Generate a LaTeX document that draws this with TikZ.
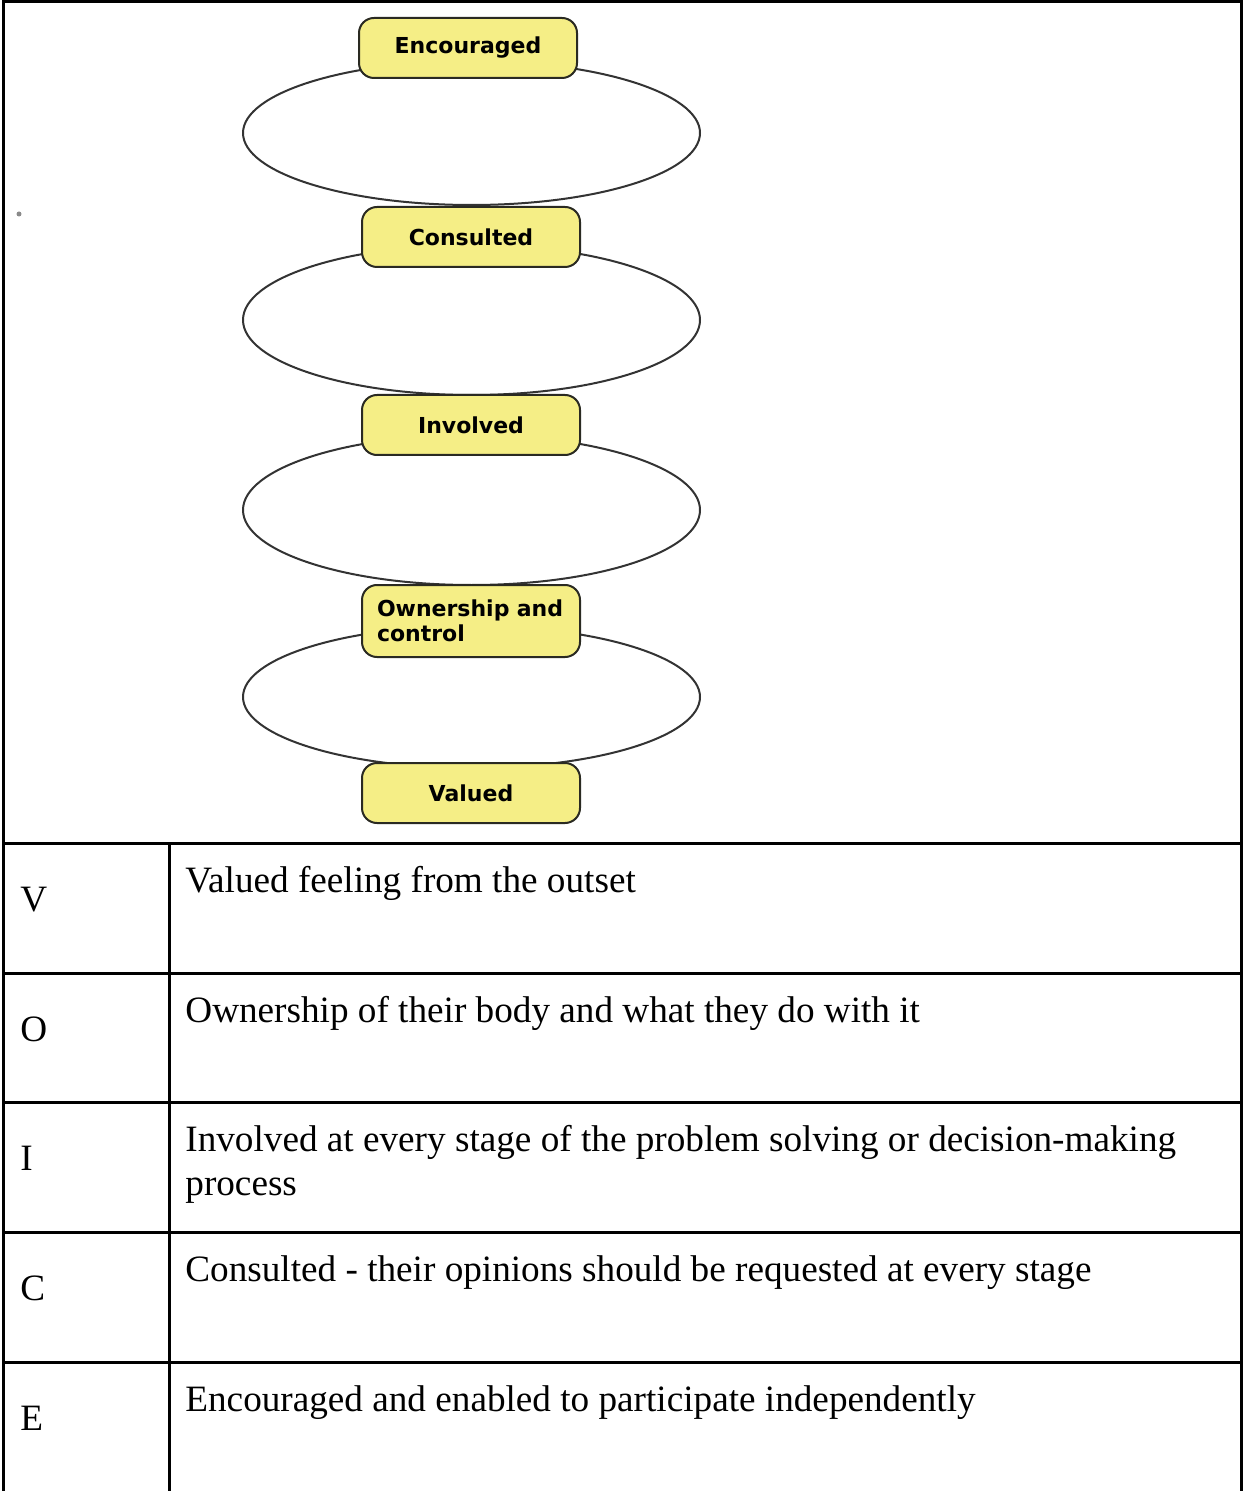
\documentclass[tikz,border=0pt]{standalone}
\usepackage{fontspec}
\setmainfont{Liberation Serif}
\newfontfamily\stagefont{DejaVu Sans}
\usetikzlibrary{shapes.geometric}
\definecolor{stagefill}{HTML}{F5EE86}
\definecolor{stageedge}{HTML}{2A2A22}
\definecolor{ringedge}{HTML}{333333}
\definecolor{smudge}{HTML}{8A8A8A}

\tikzset{
  ring/.style={draw=ringedge, line width=1pt, ellipse, inner sep=0pt,
               minimum width=228.5pt},
  stagebox/.style={draw=stageedge, fill=stagefill, line width=1pt,
                   rounded corners=7.5pt, minimum width=109pt, minimum height=30pt,
                   inner sep=0pt, align=center,
                   font=\stagefont\bfseries\fontsize{11}{12.5}\selectfont},
  gridline/.style={line width=1.5pt, line join=miter},
  keytext/.style={anchor=base west, inner sep=0pt,
                  font=\fontsize{18.6}{22}\selectfont},
  desctext/.style={anchor=base west, inner sep=0pt, align=left,
                   font=\fontsize{18.6}{22}\selectfont},
}

\begin{document}
\begin{tikzpicture}[x=0.5pt, y=-0.5pt]
  \useasboundingbox (0,0) rectangle (1244,1491);

  % loops behind the stages
  \node[ring, minimum height=72pt] (ring1) at (471.5,133) {};
  \node[ring, minimum height=75pt] (ring2) at (471.5,320) {};
  \node[ring, minimum height=75pt] (ring3) at (471.5,510) {};
  \node[ring, minimum height=71pt] (ring4) at (471.5,697) {};

  % stages, top to bottom
  \node[stagebox] (encouraged) at (468,48) {Encouraged};
  \node[stagebox] (consulted) at (471,237) {Consulted};
  \node[stagebox] (involved) at (471,425) {Involved};
  \node[stagebox, minimum height=36pt, text width=94pt, align=left]
    (ownership) at (471,621) {Ownership and\\control};
  \node[stagebox] (valued) at (471,793) {Valued};

  \fill[smudge] (19,214) circle (2.5);

  % table frame and rules
  \draw[gridline] (3,1491) -- (3,2) -- (1241,2) -- (1241,1491);
  \draw[gridline] (169,843) -- (169,1491);
  \draw[gridline] (3,843) -- (1241,843);
  \draw[gridline] (3,973) -- (1241,973);
  \draw[gridline] (3,1102) -- (1241,1102);
  \draw[gridline] (3,1232) -- (1241,1232);
  \draw[gridline] (3,1362) -- (1241,1362);

  % rows
  \node[keytext] (keyV) at (20,911) {V};
  \node[desctext] (descV) at (185,892) {Valued feeling from the outset};

  \node[keytext] (keyO) at (20,1041) {O};
  \node[desctext] (descO) at (185,1022) {Ownership of their body and what they do with it};

  % two lines: base sits on the last one
  \node[keytext] (keyI) at (20,1170) {I};
  \node[desctext] (descI) at (185,1195)
    {Involved at every stage of the problem solving or decision-making\\process};

  \node[keytext] (keyC) at (20,1300) {C};
  \node[desctext] (descC) at (185,1281) {Consulted - their opinions should be requested at every stage};

  \node[keytext] (keyE) at (20,1430) {E};
  \node[desctext] (descE) at (185,1411) {Encouraged and enabled to participate independently};
\end{tikzpicture}
\end{document}
